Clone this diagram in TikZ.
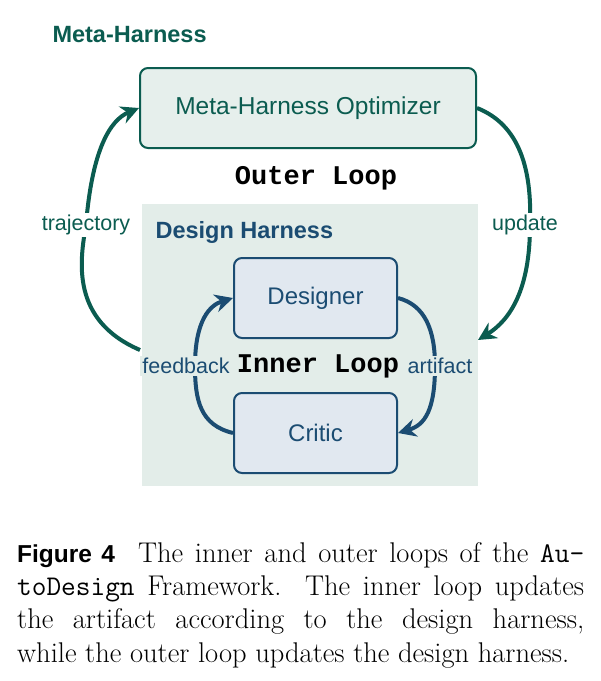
\documentclass[tikz,border=0pt]{standalone}
\usepackage{fontspec}
\newfontfamily\hsans{Liberation Sans}
\newfontfamily\hmono{Liberation Mono}
\usetikzlibrary{arrows.meta}
\definecolor{mgreen}{HTML}{0B5C50}
\definecolor{mblue}{HTML}{1B4C72}
\definecolor{optfill}{HTML}{E6EFEC}
\definecolor{dhfill}{HTML}{E3EDE9}
\definecolor{bfill}{HTML}{E1E8F0}
\begin{document}
\begin{tikzpicture}[x=1pt,y=-1pt,
  obox/.style={draw=mgreen,line width=2pt,fill=optfill,rounded corners=8pt,minimum width=336pt,minimum height=80pt,font=\hsans\fontsize{24.5}{28}\selectfont,text=mgreen},
  ibox/.style={draw=mblue,line width=2pt,fill=bfill,rounded corners=8pt,minimum width=163pt,minimum height=80pt,font=\hsans\fontsize{24}{28}\selectfont,text=mblue},
  oarr/.style={draw=mgreen,line width=4pt,-{Stealth[length=18pt,width=18pt]}},
  iarr/.style={draw=mblue,line width=4pt,-{Stealth[length=18pt,width=18pt]}},
  lbl/.style={font=\hsans\fontsize{21.5}{24}\selectfont,inner sep=2pt},
  loopt/.style={font=\hmono\bfseries\fontsize{27}{30}\selectfont,text=black}]
\useasboundingbox (0,0) rectangle (601,681);
\fill[white] (0,0) rectangle (601,681);
\fill[dhfill] (142,204) rectangle (478,486);
\node[anchor=west,font=\hsans\bfseries\fontsize{23.5}{26}\selectfont,text=mgreen] (mh) at (49,35) {Meta-Harness};
\node[obox] (opt) at (308,108) {Meta-Harness Optimizer};
\node[loopt] (ol) at (316,178) {Outer Loop};
\node[anchor=west,font=\hsans\bfseries\fontsize{23.5}{26}\selectfont,text=mblue] (dh) at (152,232) {Design Harness};
\node[ibox] (des) at (315.5,298) {Designer};
\node[ibox] (cri) at (315.5,433) {Critic};
\node[loopt] (il) at (318,366) {Inner Loop};
\coordinate (os) at (140,350);
\coordinate (oe) at (478,340);
\draw[oarr] (os) .. controls (70,320) and (80,260) .. (86,225) .. controls (92,150) and (110,120) .. (opt.west);
\draw[oarr] (opt.east) .. controls (520,125) and (532,170) .. (530,225) .. controls (530,290) and (510,320) .. (oe);
\node[lbl,fill=white,text=mgreen] (tr) at (86,225) {trajectory};
\node[lbl,fill=white,text=mgreen] (up) at (525,225) {update};
\draw[iarr] (cri.west) .. controls (200,425) and (195,400) .. (195,366) .. controls (195,320) and (210,305) .. (des.west);
\draw[iarr] (des.east) .. controls (425,305) and (435,330) .. (435,366) .. controls (435,410) and (425,425) .. (cri.east);
\node[lbl,fill=dhfill,text=mblue] (fb) at (186,366) {feedback};
\node[lbl,fill=dhfill,text=mblue] (ar) at (440,366) {artifact};
\node[anchor=north west,text width=567pt,align=justify,inner sep=0pt,font=\fontsize{28.5}{33.3}\selectfont] (cap) at (17,542)
{{\hsans\bfseries\fontsize{24.5}{28}\selectfont Figure 4}\ \ The inner and outer loops of the \texttt{Au-}\linebreak\texttt{toDesign} Framework. The inner loop updates\linebreak the artifact according to the design harness,\linebreak while the outer loop updates the design harness.};
\end{tikzpicture}
\end{document}
